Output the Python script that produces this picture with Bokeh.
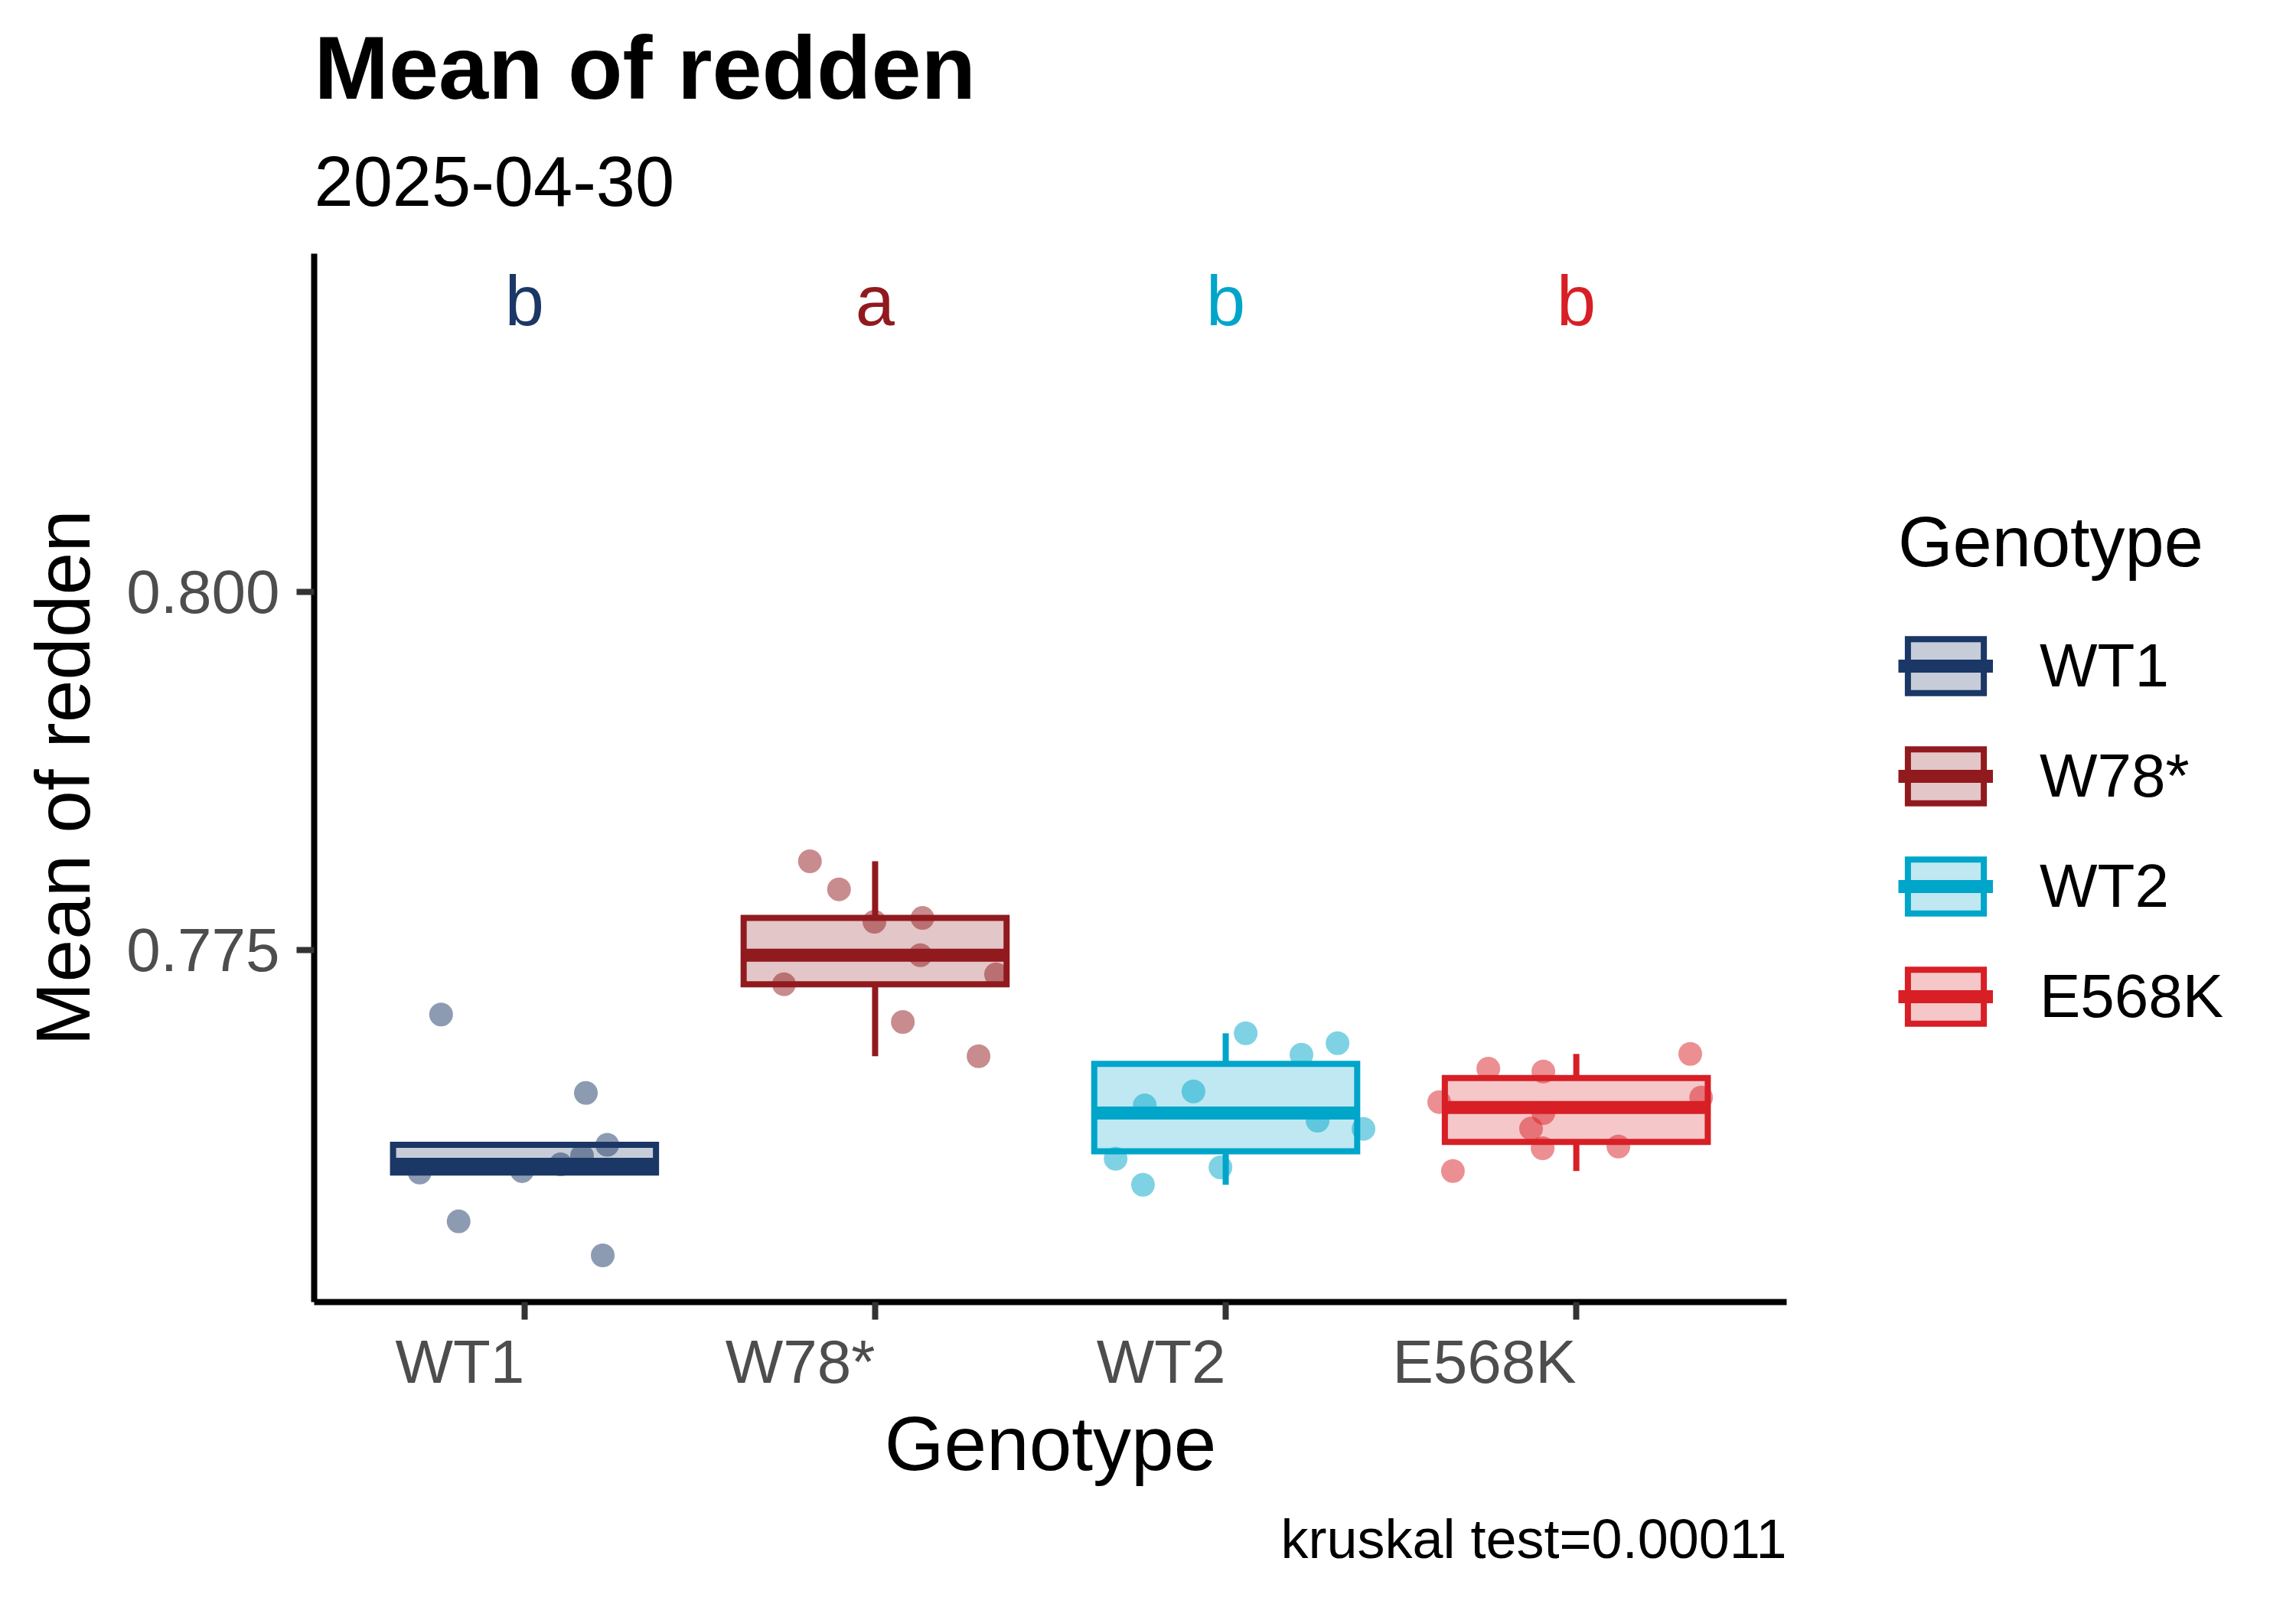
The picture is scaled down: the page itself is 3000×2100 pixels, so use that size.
import numpy as np
from bokeh.plotting import figure
from bokeh.models import (ColumnDataSource, Range1d, FixedTicker, NumeralTickFormatter,
                          Legend, LegendItem, Title)
from bokeh.core.properties import value
from bokeh.embed import file_html
from bokeh.resources import INLINE

# ---------------- data ----------------
genotypes = ["WT1", "W78*", "WT2", "E568K"]
colors = ["#1B3765", "#911A1E", "#00A5CA", "#D71F25"]
letters = ["b", "a", "b", "b"]

wt1_values = [0.77050, 0.76503, 0.76141, 0.76063, 0.76004, 0.75957, 0.75947, 0.75606, 0.75369]
wt1_jitter = [-0.238, 0.175, 0.236, 0.164, 0.103, -0.007, -0.299, -0.188, 0.223]

w78_values = [0.78120, 0.77924, 0.77698, 0.77724, 0.77464, 0.77331, 0.77261, 0.76998, 0.76759]
w78_jitter = [-0.186, -0.103, -0.002, 0.135, 0.129, 0.345, -0.260, 0.079, 0.295]

wt2_values = [0.76919, 0.76770, 0.76850, 0.76513, 0.76416, 0.76309, 0.76252, 0.76043, 0.75983, 0.75862]
wt2_jitter = [0.057, 0.216, 0.319, -0.092, -0.231, 0.262, 0.393, -0.314, -0.015, -0.236]

e568k_values = [0.76775, 0.76672, 0.76652, 0.76439, 0.76471, 0.76362, 0.76254, 0.76116, 0.76129, 0.75958]
e568k_jitter = [0.325, -0.251, -0.094, -0.391, 0.356, -0.094, -0.129, -0.096, 0.120, -0.352]

letter_y = 0.8203
y_ticks = [0.775, 0.800]
title_text = "Mean of redden"
subtitle_text = "2025-04-30"
caption_text = "kruskal test=0.00011"

group_values = [wt1_values, w78_values, wt2_values, e568k_values]
group_jitter = [wt1_jitter, w78_jitter, wt2_jitter, e568k_jitter]

FONT = "Liberation Sans"
BOX_W = 0.75

# ---------------- boxplot statistics (ggplot style) ----------------
xs, q1s, meds, q3s, los, his = [], [], [], [], [], []
for i, vals in enumerate(group_values):
    v = np.array(vals)
    q1, med, q3 = np.percentile(v, [25, 50, 75])
    iqr = q3 - q1
    lo = v[v >= q1 - 1.5 * iqr].min()
    hi = v[v <= q3 + 1.5 * iqr].max()
    xs.append(i + 1); q1s.append(q1); meds.append(med); q3s.append(q3)
    los.append(lo); his.append(hi)

box_src = ColumnDataSource(dict(
    x=xs, xl=[x - BOX_W / 2 for x in xs], xr=[x + BOX_W / 2 for x in xs],
    q1=q1s, med=meds, q3=q3s, lo=los, hi=his, color=colors, label=genotypes))

px, py, pc = [], [], []
for i, (vals, jit) in enumerate(zip(group_values, group_jitter)):
    for v, j in zip(vals, jit):
        px.append(i + 1 + j); py.append(v); pc.append(colors[i])
pt_src = ColumnDataSource(dict(x=px, y=py, color=pc))

txt_src = ColumnDataSource(dict(x=xs, y=[letter_y] * 4, text=letters, color=colors))

# ---------------- figure ----------------
p = figure(width=2984, height=2084, frame_width=1924, frame_height=1370, title=None,
           x_range=Range1d(0.4, 4.6), y_range=Range1d(0.75043, 0.82361),
           output_backend="svg", toolbar_location=None,
           min_border_left=410, min_border_right=0,
           min_border_top=331, min_border_bottom=383)
p.background_fill_color = "white"
p.border_fill_color = "white"
p.outline_line_color = None
p.xgrid.visible = False
p.ygrid.visible = False

# whiskers
p.segment(x0="x", x1="x", y0="q3", y1="hi", line_color="color", line_width=8, source=box_src)
p.segment(x0="x", x1="x", y0="lo", y1="q1", line_color="color", line_width=8, source=box_src)
# boxes
box_r = p.vbar(x="x", width=BOX_W, bottom="q1", top="q3", fill_color="color", fill_alpha=0.25,
               line_color="color", line_width=8, line_join="miter", source=box_src)
# medians
med_r = p.segment(x0="xl", x1="xr", y0="med", y1="med", line_color="color", line_width=17,
                  line_cap="butt", source=box_src)
# jittered points
p.scatter(x="x", y="y", size=31, fill_color="color", fill_alpha=0.5, line_color=None, source=pt_src)
# letters
p.text(x="x", y="y", text="text", text_color="color", text_font=value(FONT),
       text_font_size="92px", text_align="center", text_baseline="alphabetic",
       y_offset=0, source=txt_src)

# ---------------- axes ----------------
for ax in (p.xaxis[0], p.yaxis[0]):
    ax.axis_line_color = "black"
    ax.axis_line_width = 8
    ax.major_tick_line_color = "#333333"
    ax.major_tick_line_width = 8
    ax.major_tick_out = 23
    ax.major_tick_in = 0
    ax.minor_tick_line_color = None
    ax.major_label_text_font = FONT
    ax.major_label_text_font_size = "80px"
    ax.major_label_text_color = "#4D4D4D"
    ax.axis_label_text_font = FONT
    ax.axis_label_text_font_size = "100px"
    ax.axis_label_text_font_style = "normal"
    ax.axis_label_text_color = "black"

p.yaxis.ticker = FixedTicker(ticks=y_ticks)
p.yaxis.formatter = NumeralTickFormatter(format="0.000")
p.yaxis.major_label_standoff = 22
p.yaxis.axis_label = "Mean of redden"
p.yaxis.axis_label_standoff = 24

p.xaxis.ticker = FixedTicker(ticks=xs)
p.xaxis.major_label_overrides = {x: g for x, g in zip(xs, genotypes)}
p.xaxis.major_label_orientation = 0.0
p.xaxis.major_label_standoff = 55
p.xaxis.axis_label = "Genotype"
p.xaxis.axis_label_standoff = -42

# ---------------- titles ----------------
p.add_layout(Title(text=subtitle_text, align="left", text_font=FONT, text_font_size="92px",
                   text_font_style="normal", text_color="black", standoff=126), "above")
p.add_layout(Title(text=title_text, align="left", text_font=FONT, text_font_size="117px",
                   text_font_style="bold", text_color="black", standoff=-28), "above")
p.add_layout(Title(text=caption_text, align="right", text_font=FONT, text_font_size="72px",
                   text_font_style="normal", text_color="black", standoff=48), "below")

# ---------------- legend ----------------
items = [LegendItem(label=g, renderers=[box_r, med_r], index=i) for i, g in enumerate(genotypes)]
legend = Legend(items=items, location=(146, 353), title="Genotype",
                title_text_font=FONT, title_text_font_size="92px", title_text_font_style="normal",
                title_text_color="black", title_standoff=63,
                label_text_font=FONT, label_text_font_size="80px", label_text_color="black",
                glyph_width=124, glyph_height=88, label_height=88, label_standoff=61,
                spacing=52, padding=0, margin=0,
                border_line_alpha=0, background_fill_alpha=0)
p.add_layout(legend, "right")

open("out.html", "w").write(file_html(p, INLINE))
